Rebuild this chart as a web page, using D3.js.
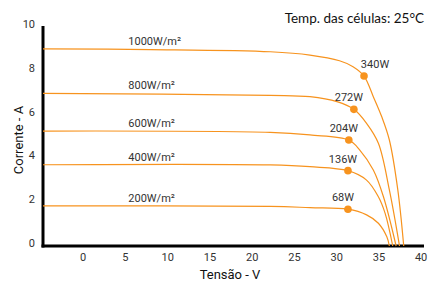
<!DOCTYPE html>
<html>
<head>
<meta charset="utf-8">
<script src="https://cdn.jsdelivr.net/npm/d3@7"></script>
<style>
  body { margin: 0; background: #fff; }
  svg { display: block; }
</style>
</head>
<body>
<svg id="drawing_region"></svg>
<script>
// I-V curves (tensão V, corrente A)
const curve1000 = [[-4.7,9.00],[8,8.97],[22.2,8.87],[26.9,8.72],[30.4,8.46],[32.0,8.19],[33.3,7.76],[34.4,6.82],[35.4,5.90],[36.3,4.84],[37.3,2.56],[38.0,0]];
const curve800  = [[-4.7,6.97],[22.2,6.88],[26.9,6.82],[30.1,6.59],[32.1,6.24],[33.6,5.60],[35.0,4.69],[36.3,2.56],[37.5,0]];
const curve600  = [[-4.7,5.25],[22.2,5.19],[26.9,5.07],[31.5,4.84],[32.8,4.38],[34.4,3.47],[35.6,2.25],[37.1,0]];
const curve400  = [[-4.7,3.71],[22.2,3.70],[26.9,3.62],[31.4,3.44],[33.6,3.01],[35.0,2.25],[35.8,1.49],[36.7,0]];
const curve200  = [[-4.7,1.83],[22.2,1.81],[26.9,1.75],[31.4,1.68],[33.6,1.42],[35.0,1.04],[36.0,0.42],[36.3,0]];

const curves = [curve1000, curve800, curve600, curve400, curve200];
const irradiance = ['1000W/m²', '800W/m²', '600W/m²', '400W/m²', '200W/m²'];

// maximum power points
const mppV = [33.3, 32.1, 31.5, 31.4, 31.4];
const mppI = [7.76, 6.24, 4.84, 3.44, 1.68];
const mppLabel = ['340W', '272W', '204W', '136W', '68W'];

const xTicks = [0, 5, 10, 15, 20, 25, 30, 35, 40];
const yTicks = [0, 2, 4, 6, 8, 10];

const config = {
    parent: '#drawing_region',
    width: 428,
    height: 282
};

const orange = '#f7931e';

const svg = d3.select(config.parent)
    .attr('width', config.width)
    .attr('height', config.height);

const xscale = d3.scaleLinear()
    .domain([-4.7, 40.4])
    .range([43, 424]);

const yscale = d3.scaleLinear()
    .domain([0, 10])
    .range([246, 27]);

// axes
const xaxis = d3.axisBottom(xscale)
    .tickValues(xTicks)
    .tickSize(0)
    .tickPadding(7);

const yaxis = d3.axisLeft(yscale)
    .tickValues(yTicks)
    .tickSize(0)
    .tickPadding(8);

const xaxis_group = svg.append('g')
    .attr('transform', `translate(0, ${yscale(0)})`)
    .call(xaxis);

const yaxis_group = svg.append('g')
    .attr('transform', `translate(${xscale.range()[0]}, 0)`)
    .call(yaxis);

[xaxis_group, yaxis_group].forEach(g => {
    g.select('.domain').remove();
    g.selectAll('text')
        .attr('font-family', 'Roboto, sans-serif')
        .attr('font-size', '11px')
        .attr('fill', '#333');
});
yaxis_group.selectAll('text').attr('y', -3);

// black axis lines
svg.append('line')
    .attr('x1', xscale.range()[0]).attr('x2', xscale.range()[0])
    .attr('y1', 26).attr('y2', yscale(0) + 1.5)
    .attr('stroke', '#000').attr('stroke-width', 3);

svg.append('line')
    .attr('x1', xscale.range()[0] - 1.5).attr('x2', xscale.range()[1])
    .attr('y1', yscale(0)).attr('y2', yscale(0))
    .attr('stroke', '#000').attr('stroke-width', 3);

// curves
const line = d3.line()
    .x(d => xscale(d[0]))
    .y(d => yscale(d[1]))
    .curve(d3.curveCatmullRom.alpha(0.5));

svg.append('g')
    .selectAll('path')
    .data(curves)
    .join('path')
    .attr('d', line)
    .attr('fill', 'none')
    .attr('stroke', orange)
    .attr('stroke-width', 1.2);

// irradiance labels
svg.append('g')
    .selectAll('text')
    .data(irradiance)
    .join('text')
    .attr('x', xscale(5.4))
    .attr('y', (d, i) => yscale(curves[i][0][1]) - 4)
    .attr('font-family', 'Roboto, sans-serif')
    .attr('font-size', '11px')
    .attr('fill', '#333')
    .text(d => d);

// MPP dots and labels
svg.append('g')
    .selectAll('circle')
    .data(mppV)
    .join('circle')
    .attr('cx', d => xscale(d))
    .attr('cy', (d, i) => yscale(mppI[i]))
    .attr('r', 3.8)
    .attr('fill', orange);

svg.append('g')
    .selectAll('text')
    .data(mppLabel)
    .join('text')
    .attr('x', (d, i) => xscale(mppV[i]) + (i === 0 ? 11 : -5))
    .attr('y', (d, i) => yscale(mppI[i]) - 8)
    .attr('text-anchor', 'middle')
    .attr('font-family', 'Roboto, sans-serif')
    .attr('font-size', '11px')
    .attr('fill', '#333')
    .text(d => d);

// titles
svg.append('text')
    .attr('x', 424)
    .attr('y', 23)
    .attr('text-anchor', 'end')
    .attr('font-family', 'Lato, sans-serif')
    .attr('font-size', '13.5px')
    .attr('fill', '#111')
    .text('Temp. das células: 25°C');

svg.append('text')
    .attr('x', 230)
    .attr('y', 279)
    .attr('text-anchor', 'middle')
    .attr('font-family', 'Roboto, sans-serif')
    .attr('font-size', '13px')
    .attr('fill', '#111')
    .text('Tensão - V');

svg.append('text')
    .attr('transform', 'translate(23, 140) rotate(-90)')
    .attr('text-anchor', 'middle')
    .attr('font-family', 'Roboto, sans-serif')
    .attr('font-size', '13px')
    .attr('fill', '#111')
    .text('Corrente - A');
</script>
</body>
</html>
